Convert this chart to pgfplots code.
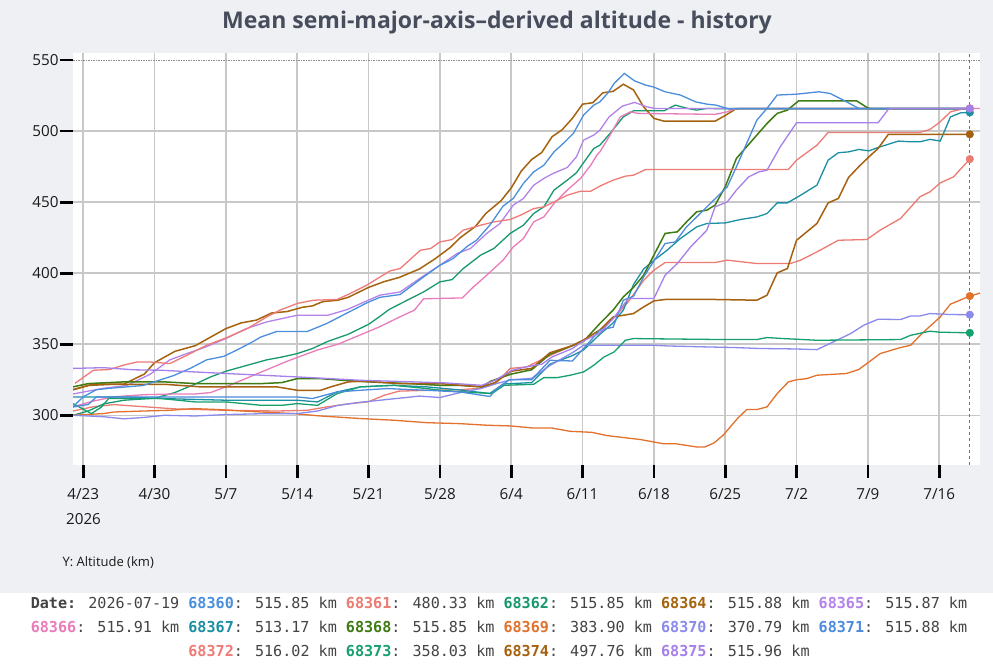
\documentclass[border=0pt]{standalone}
\usepackage{fontspec}
\setmainfont{Open Sans}
\newfontfamily\monofont{DejaVu Sans Mono}
\usepackage{pgfplots}
\pgfplotsset{compat=1.18}
\definecolor{bg}{HTML}{EEF0F4}
\definecolor{titlec}{HTML}{474D5C}
\definecolor{gridc}{HTML}{C8C8C8}
\definecolor{txtc}{HTML}{444444}
\definecolor{c68360}{HTML}{4A8FDC}
\definecolor{c68361}{HTML}{EC7B72}
\definecolor{c68362}{HTML}{16996F}
\definecolor{c68364}{HTML}{A5630E}
\definecolor{c68365}{HTML}{B483EA}
\definecolor{c68366}{HTML}{E97CBA}
\definecolor{c68367}{HTML}{1B8FA3}
\definecolor{c68368}{HTML}{3E7B12}
\definecolor{c68369}{HTML}{E2712C}
\definecolor{c68370}{HTML}{8A8AEC}
\definecolor{c68371}{HTML}{4D8BDD}
\definecolor{c68372}{HTML}{EF7B77}
\definecolor{c68373}{HTML}{15A06D}
\definecolor{c68374}{HTML}{A5610F}
\definecolor{c68375}{HTML}{A680EA}
\newcommand{\lid}[2]{{\bfseries\textcolor{c#1}{#1}}: #2 km}
\begin{document}
\begin{tikzpicture}[x=1pt,y=1pt]
\useasboundingbox (0,0) rectangle (993,667);
\fill[bg] (0,0) rectangle (993,667);
\fill[white] (0,0) rectangle (993,74);
\node[font=\fontsize{23}{27}\selectfont\bfseries, text=titlec] at (497,644) {Mean semi-major-axis–derived altitude - history};
\begin{axis}[
  at={(73pt,202pt)}, anchor=south west,
  width=907pt, height=412pt, scale only axis,
  xmin=-1, xmax=88, ymin=265, ymax=555,
  axis background/.style={fill=white},
  axis line style={draw=none},
  xtick={0,7,...,84},
  xticklabels={4/23,4/30,5/7,5/14,5/21,5/28,6/4,6/11,6/18,6/25,7/2,7/9,7/16},
  ytick={300,350,...,500},
  extra y ticks={550},
  extra y tick style={grid style={draw=black!45, densely dotted, line width=1pt}},
  xmajorgrids, ymajorgrids,
  grid style={draw=gridc, line width=1.5pt},
  tick pos=left, tick align=outside,
  major tick length=13pt,
  tick style={draw=black, line width=2.7pt},
  /pgf/number format/assume math mode=true,
  ticklabel style={font=\fontsize{15.2}{17}\selectfont, text=black!90},
  xticklabel style={yshift=-7pt},
  yticklabel style={xshift=2pt},
  clip=true,
]
\addplot[c68361, line width=1.3pt] coordinates {(-1,303)(1,306)(3,307.5)(6,306)(9,304.5)(14,303.5)(19,303)(22,303.5)(24,306)(26,308)(28,309.5)(29.5,314)(31,317)(34,317.6)(37,318)(39,319)(40.4,322)(41.9,333)(43.5,334)(45.8,342)(48,349)(49.1,353)(50.7,360)(52,368)(53.5,380)(55,395)(56,402.1)(57.1,407.5)(62,407.5)(63.2,409.2)(66.1,406.8)(69.4,406.8)(70.4,409.2)(72,415)(74.1,423.2)(76.9,423.7)(78.2,430.3)(80.2,438.5)(82.1,453.7)(83.1,457.3)(84.1,463.6)(85.4,467.8)(87,480.33)};
\addplot[c68362, line width=1.3pt] coordinates {(-1,300)(0.5,303)(2,308)(4,310.6)(7,312)(9,316)(11,322)(12.5,327)(14,331)(16,335)(18,339)(19.5,341)(21,343.4)(22.5,347)(24,352)(26,357)(28,364)(29,369)(30,374.4)(31.8,381)(33.4,386.8)(35,393.9)(36.2,395.5)(37.3,403.3)(39,412.7)(40.3,417.4)(41.9,428)(43.2,433.8)(44.2,442)(45.2,446.7)(46.2,458.5)(47.5,465.5)(48.4,470.7)(49.4,480.8)(50.1,487.8)(50.7,490.1)(51.7,498.4)(53,510)(54,514.3)(57,514.3)(58.1,518.3)(59.3,516)(60.2,514.8)(61.2,516)(62,515.85)(87,515.85)};
\addplot[c68364, line width=1.5pt] coordinates {(-1,318)(1,322)(4,322)(6,329)(7,337)(8.5,343)(9,345)(11,349)(12.5,355)(14,361)(15.5,365)(17,367)(18.5,372)(20,373)(21.5,376)(22.5,377)(23.5,380)(25,381)(26,383)(28,390)(29.5,394)(31,397)(33,403)(34.5,410)(36,418)(37,425)(38.5,433)(39.5,442)(41,451)(42,460)(43,472)(44,480)(45,485)(46,496)(47,501)(48,509)(49,519)(50,520)(51,527)(52,528)(53,533)(54,529)(55,517)(56,509)(57,507)(62,507)(63,511)(64,515.5)(64.5,515.88)(87,515.88)};
\addplot[c68365, line width=1.3pt] coordinates {(-1,315)(2,319)(4.3,321)(6.6,329)(8.5,339)(10,343)(12,348)(14,354)(16,361)(18,365.7)(21,370.4)(24,370.4)(25.9,374.4)(29.1,384.5)(31.1,386.8)(33.1,396.7)(35,405.6)(36.7,413.9)(38,417.4)(39.6,428)(40.9,435)(42.2,447.9)(43.2,452.6)(44.2,461.9)(45.2,466.7)(46.1,470.2)(47.5,474.4)(48.4,481.9)(49.1,493.7)(50.1,497.2)(50.7,500.7)(51.6,510)(52.9,517.6)(54.1,520.2)(55.3,517.1)(56.2,515.87)(87,515.87)};
\addplot[c68366, line width=1.3pt] coordinates {(-1,306)(1,310)(3,313)(6,314.5)(9,315)(11,315)(12.5,316)(14,320)(16,326)(18,332)(20,338)(21.5,342)(23,346)(25,350)(27,356)(29,362)(31,369)(32.5,374)(33.4,382)(37.2,382.6)(38.3,390.4)(39.6,398.6)(41.2,409.2)(42.2,418.5)(43.2,424.4)(44.2,436.1)(45.2,439.6)(46.2,449.1)(47.5,458.5)(48.8,466.7)(49.8,476)(50.4,483.1)(50.7,485.4)(51.7,497.2)(52.7,510)(53.7,513.6)(54.4,512.5)(62,511.8)(63.2,513.6)(63.8,515.3)(64.2,515.91)(88,515.91)};
\addplot[c68367, line width=1.3pt] coordinates {(-1,312.9)(4.3,312.9)(7.6,311.8)(14,310.6)(21,310.6)(23,309.4)(24.9,316.4)(27.2,320)(30.5,321.1)(33.7,320)(37,317.8)(39.9,315.3)(41.2,322)(44,323)(45.8,336)(48,342)(49.1,346)(50.7,357)(52,365)(53,374)(54,392)(55,403)(56,409)(57.3,416.2)(58.6,424.4)(60.2,432.6)(61.2,435)(63,435.4)(64.5,437.8)(66.1,439.6)(67.1,442)(68.1,449.5)(69.1,449.5)(70.4,454.9)(72,462)(73.1,479.6)(74.1,484.8)(75.1,485.4)(76.1,487.1)(77.1,486.1)(78,488.5)(80,493)(81.2,492.5)(82.1,492.5)(83.1,494.2)(84.1,493)(85.1,510)(86.1,512.9)(87,513.17)};
\addplot[c68368, line width=1.5pt] coordinates {(-1,320)(0.5,322.3)(4,323.5)(8,323.5)(11,322.3)(17.5,322.3)(19.5,323)(21,325.8)(23.3,325.8)(25.5,324.6)(28,323.5)(32,322.3)(35,321.1)(37,321)(39.1,320)(40,324)(42,329)(44,332)(45.8,343)(48,349)(49.1,352)(50.7,364.6)(52,374)(53,383.3)(54,390)(55,398.6)(56,412.7)(57.1,428)(58.3,429.1)(59.2,436.1)(60.2,443.2)(61.2,444.4)(62,447.9)(63,460.8)(64.1,480.8)(65.1,489)(66.1,497.2)(67.1,505.4)(68.1,512.5)(69.1,514.8)(70.2,521.3)(75.9,521.3)(76.9,516.7)(77.2,515.85)(87,515.85)};
\addplot[c68369, line width=1.3pt] coordinates {(-1,300)(2,301.2)(3,302.3)(5.9,303)(8.5,303.5)(10.8,304.7)(13.4,304)(16.1,302.8)(20.6,301.2)(23.3,299.5)(27.2,297.7)(30.5,296.5)(33.7,294.8)(37,294.1)(39.6,293)(41.9,292.5)(44.2,291)(46,291)(47.8,288.7)(49.9,288)(51.4,285.7)(54.7,282.9)(56.9,280)(58.1,280)(60.2,277.7)(61,277.7)(61.9,280.5)(62.8,286)(64.2,297.7)(65.1,304)(66.1,304)(67.1,305.9)(68.1,315.3)(69.2,323.5)(70,325)(71,325.8)(72,328.2)(74.9,329.4)(76.1,332.2)(77.1,337.5)(78.2,343.4)(80.2,347.7)(81.2,349.3)(82.3,357.5)(84.1,369.2)(85.1,378.2)(87,383.9)(88,386)};
\addplot[c68370, line width=1.3pt] coordinates {(-1,300)(2,299)(4,297.5)(6,298.5)(8,300)(11,299.5)(14,300.5)(17,301)(21,301.2)(23,303)(25,307)(27,309)(29,310.5)(31,312)(33,313.5)(35,312.5)(37,316)(39,318.8)(40.4,322)(42,325)(44,326)(45.8,335)(47,340)(48,344)(49.1,349.3)(56,349.3)(57.3,348.8)(61.2,348.1)(63.8,347.7)(66.4,347)(69.7,346.7)(72,346.2)(73.6,351.6)(75.3,357.5)(76.6,363.4)(78,367.6)(80.2,367.4)(81.2,369.9)(82.1,369.9)(83.1,371.6)(85.1,370.9)(87,370.79)};
\addplot[c68372, line width=1.3pt] coordinates {(-0.8,322.5)(1,331.7)(2.6,332.2)(3.9,335.2)(5.3,337.5)(6.6,337.5)(8.5,336.4)(10.2,342.3)(12.1,349.3)(14.1,354.7)(16.1,361)(18,369.2)(19.3,374)(21,378.7)(22.6,381)(24.9,381.5)(26.2,385.7)(27.8,391.5)(30.1,401.6)(31.1,403.3)(33.1,416.2)(34.1,417.4)(35,422)(36.2,423.7)(37.3,430.3)(39,433.8)(40.3,436.1)(41.9,437.8)(42.9,440.8)(44.2,445.5)(45.2,446.7)(46.2,450.2)(47.5,454.9)(48.8,457.7)(49.8,457.7)(50.7,461.3)(52,465.5)(53.2,468.3)(54,469)(55.2,473)(69.2,473)(70,479.6)(72,490.1)(73.1,499.1)(82.1,499.1)(83.1,501.2)(84.1,506.6)(85.1,513.6)(86.1,515.3)(87,516.02)};
\addplot[c68373, line width=1.3pt] coordinates {(-1,308.2)(0.8,301.2)(1.8,305.8)(2.5,311.8)(7.6,311.8)(11,309.4)(14,309.4)(17.5,307)(19.5,307)(21,308.2)(23,307)(24.9,315.2)(27.2,320)(30.5,321.1)(33.7,318.8)(35,317.6)(37.3,316.4)(40.1,315.3)(41.3,321.1)(44.2,321.8)(45.2,326.5)(46.5,326.5)(47.8,328.2)(49.1,330.5)(50.1,335.2)(51.1,341)(52.1,344.6)(53.2,352.8)(54,354)(62.8,353.3)(66.1,353.3)(67.1,354.7)(68.7,354)(72,352.8)(80.2,353.3)(81.2,356.3)(83.1,359.2)(84,358.5)(87,358.03)};
\addplot[c68374, line width=1.5pt] coordinates {(-1,318)(0.5,321)(3,321.8)(8,321.8)(11.5,320)(19,320)(21,317.6)(23.3,317.6)(24.3,320)(26,323.5)(27.5,324)(31,322.3)(35,322.3)(39.1,320)(40.4,323)(42,331)(44,333)(45.8,344)(48,349)(49.1,353)(50.7,360)(52,369.2)(54,371.6)(55,376.3)(56,380.5)(57.1,381.5)(62,381.5)(66.1,381)(67.1,384.5)(68.1,400.2)(69.1,403.3)(70,423.2)(72,435)(73.1,449.5)(74.1,452.6)(75.1,467.4)(76.1,474.9)(77.1,481.9)(78,487.8)(79,497.7)(87,497.76)};
\addplot[c68360, line width=1.3pt] coordinates {(-1,306)(0,313)(1.3,318)(2.6,319)(4.3,320)(5.9,321)(7.6,325)(8.9,328)(10.5,333)(12.1,339)(13.8,341.5)(15.1,346)(16.7,352)(17.4,355)(19,359)(22,359)(23.9,364.6)(25.9,372)(27.8,379)(29.1,383)(31.1,385)(33.2,396.3)(35,405.6)(36.3,410.3)(37.7,419)(38.6,423.2)(39.9,433.8)(41.2,447.2)(42.2,452.6)(43.2,463.2)(44.2,471.3)(45.2,476)(46.2,485.4)(47.1,491.3)(48.1,498.4)(49.1,511.3)(50.1,518.3)(50.7,520.6)(51.5,527)(52.1,533.6)(53.1,540.6)(54.1,535.4)(55.2,532.4)(56,531)(57.1,527.7)(58.6,525.4)(60.1,520.6)(61.2,519)(62.1,518.3)(63.4,515.5)(64,515.85)(87,515.85)};
\addplot[c68371, line width=1.3pt] coordinates {(-1,305.8)(0.5,307.6)(1.3,312.9)(4.3,312.9)(11,312.9)(21,312.9)(22.5,311.8)(24.9,316.4)(27.2,317.6)(29.8,318.8)(33.7,317.6)(37,316.4)(39.9,313.2)(40.5,318)(41.8,325)(44,325)(45.8,338.7)(48,338.2)(49.1,347)(50.7,360)(52,362)(53,381)(54,383.8)(55,397.4)(57.1,420.9)(58.1,422)(59.2,432.6)(60.2,439.6)(61.2,446.7)(62.2,453.7)(63.2,460.8)(64.1,474.9)(65.1,491.3)(66.1,507.7)(67.1,516)(68.1,525.4)(70,526)(72.2,527.7)(73.3,526.5)(74.6,521.8)(76.1,516)(76.5,515.88)(87,515.88)};
\addplot[c68375, line width=1.3pt] coordinates {(-1,333)(2,333.5)(5,332)(7.6,331.7)(14,329.4)(21,327)(27.3,324.6)(30.6,323.9)(35.5,322.8)(39.1,321.1)(40.4,324.6)(42.1,331.7)(43.4,334)(45,336)(46,341)(48,347)(49,352)(50.7,358)(52,368)(53.5,382.2)(56,382.2)(57.1,398.6)(58.3,406.8)(59.6,418.5)(61.2,430.3)(62,446.7)(63.2,450.2)(64.1,458.5)(65.3,467.8)(66.3,471.3)(67.1,472.5)(68.4,489)(70,505.9)(78,505.9)(79,515.3)(79.5,515.96)(87,515.96)};
\draw[black!55, dash pattern=on 3pt off 3pt, line width=0.8pt] (axis cs:87,265) -- (axis cs:87,555);
\addplot[only marks, mark=*, mark size=3.8pt, c68373] coordinates {(87,358.03)};
\addplot[only marks, mark=*, mark size=3.8pt, c68370] coordinates {(87,370.79)};
\addplot[only marks, mark=*, mark size=3.8pt, c68369] coordinates {(87,383.9)};
\addplot[only marks, mark=*, mark size=3.8pt, c68361] coordinates {(87,480.33)};
\addplot[only marks, mark=*, mark size=3.8pt, c68374] coordinates {(87,497.76)};
\addplot[only marks, mark=*, mark size=3.8pt, c68367] coordinates {(87,513.17)};
\addplot[only marks, mark=*, mark size=3.8pt, c68360] coordinates {(87,515.85)};
\addplot[only marks, mark=*, mark size=3.8pt, c68372] coordinates {(87,516.02)};
\addplot[only marks, mark=*, mark size=3.8pt, c68375] coordinates {(87,515.96)};
\end{axis}
\node[font=\fontsize{15.2}{17}\selectfont, text=black!90] at (83.5,148) {2026};
\node[font=\fontsize{13}{15}\selectfont, text=black!90, anchor=west] at (59,104) {Y: Altitude (km)};
\begin{scope}[every node/.style={font=\monofont\fontsize{15.1}{18}\selectfont, text=txtc}]
\node at (499,64) {{\bfseries Date:} 2026-07-19 \lid{68360}{515.85} \lid{68361}{480.33} \lid{68362}{515.85} \lid{68364}{515.88} \lid{68365}{515.87}};
\node at (499,40) {\lid{68366}{515.91} \lid{68367}{513.17} \lid{68368}{515.85} \lid{68369}{383.90} \lid{68370}{370.79} \lid{68371}{515.88}};
\node at (499,16) {\lid{68372}{516.02} \lid{68373}{358.03} \lid{68374}{497.76} \lid{68375}{515.96}};
\end{scope}
\end{tikzpicture}
\end{document}
